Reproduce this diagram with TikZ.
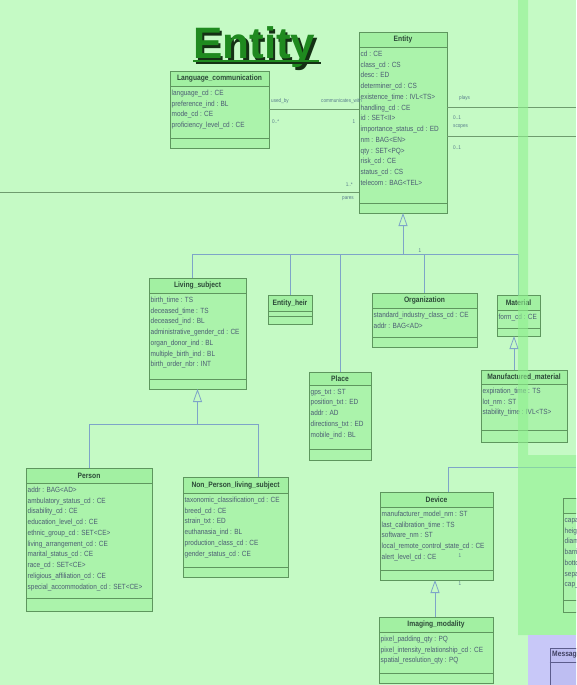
\documentclass[tikz,border=0pt]{standalone}
\usepackage{fontspec}
\setmainfont{Liberation Sans}
\newfontfamily\umlfont[FakeStretch=0.86]{Liberation Sans}
\usetikzlibrary{arrows.meta,fit,calc}

\definecolor{cBg}{HTML}{C5FAC5}
\definecolor{cBody}{HTML}{ABF3AB}
\definecolor{cHead}{HTML}{A2F0A2}
\definecolor{cEdge}{HTML}{5E965E}
\definecolor{cHeadText}{HTML}{2C4A38}
\definecolor{cAttrText}{HTML}{4C5E74}
\definecolor{cLabel}{HTML}{587C8C}
\definecolor{cGen}{HTML}{7EA4C8}
\definecolor{cAssoc}{HTML}{6E9C6E}
\definecolor{cGlow}{HTML}{90F090}
\definecolor{cLav}{HTML}{C8C8F8}
\definecolor{cLavBox}{HTML}{BEBEF2}
\definecolor{cLavEdge}{HTML}{5C5C8C}
\definecolor{cTitle}{HTML}{1F8A1F}
\definecolor{cShadow}{HTML}{143014}

\tikzset{
  classframe/.style={draw=cEdge, line width=0.8pt, inner sep=0pt, outer sep=0pt},
  boxrule/.style={draw=cEdge, line width=0.8pt},
  classtitle/.style={inner sep=0pt, text=cHeadText,
    font=\umlfont\bfseries\fontsize{7.8}{9}\selectfont},
  classattrs/.style={anchor=north west, inner sep=0pt, align=left, text=cAttrText,
    font=\umlfont\fontsize{7.5}{10.75}\selectfont},
  rolelabel/.style={inner sep=0pt, text=cLabel,
    font=\umlfont\fontsize{5.4}{6}\selectfont},
  genline/.style={draw=cGen, line width=0.8pt},
  genarrow/.style={genline, -{Triangle[open, length=13pt, width=9pt]}},
  assocline/.style={draw=cAssoc, line width=0.9pt},
}

% #1 name, #2 left, #3 top, #4 right, #5 header rule, #6 attribute rule,
% #7 bottom, #8 class name, #9 attributes
\newcommand\umlclass[9]{%
  \fill[cBody] (#2,#3) rectangle (#4,#7);
  \fill[cHead] (#2,#3) rectangle (#4,#5);
  \draw[boxrule] (#2,#5) -- (#4,#5) (#2,#6) -- (#4,#6);
  \node[classframe, fit={(#2,#3) (#4,#7)}] (#1) {};
  \node[classtitle] (#1-title) at ($(#2,#3)!0.5!(#4,#5)$) {#8};
  \node[classattrs] (#1-attrs) at ($(#2,#5)+(1.5,3.8)$) {#9};
}

\begin{document}
\begin{tikzpicture}[x=1pt, y=-1pt]
\useasboundingbox (0,0) rectangle (576,685);
\clip (0,0) rectangle (576,685);
\fill[cBg] (0,0) rectangle (576,685);

% heading with drop shadow and underline
\node[anchor=base west, inner sep=0pt, text=cShadow,
  font=\bfseries\fontsize{44}{44}\selectfont] (heading-shadow) at (195.5,61.5) {Entity};
\node[anchor=base west, inner sep=0pt, text=cTitle,
  font=\bfseries\fontsize{44}{44}\selectfont] (heading) at (193,59) {Entity};
\draw[cShadow, line width=2pt] ($(heading.base west)+(2.5,4.5)$) -- ($(heading.base east)+(5.5,4.5)$);
\draw[cTitle, line width=2pt] ($(heading.base west)+(0,2.5)$) -- ($(heading.base east)+(3,2.5)$);

% classes
\umlclass{entity}{359}{32}{447}{47}{203}{213}{Entity}{%
cd : CE\\ class\_cd : CS\\ desc : ED\\ determiner\_cd : CS\\ existence\_time : IVL<TS>\\
handling\_cd : CE\\ id : SET<II>\\ importance\_status\_cd : ED\\ nm : BAG<EN>\\
qty : SET<PQ>\\ risk\_cd : CE\\ status\_cd : CS\\ telecom : BAG<TEL>}

\umlclass{langcomm}{170}{71}{269}{86}{138}{148}{Language\_communication}{%
language\_cd : CE\\ preference\_ind : BL\\ mode\_cd : CE\\ proficiency\_level\_cd : CE}

\umlclass{livsub}{149}{278}{246}{293}{379}{389}{Living\_subject}{%
birth\_time : TS\\ deceased\_time : TS\\ deceased\_ind : BL\\ administrative\_gender\_cd : CE\\
organ\_donor\_ind : BL\\ multiple\_birth\_ind : BL\\ birth\_order\_nbr : INT}

\umlclass{heir}{268}{295}{312}{311}{316}{324}{Entity\_heir}{}

\umlclass{place}{309}{372}{371}{385}{449}{460}{Place}{%
gps\_txt : ST\\ position\_txt : ED\\ addr : AD\\ directions\_txt : ED\\ mobile\_ind : BL}

\umlclass{org}{372}{293}{477}{308}{337}{347}{Organization}{%
standard\_industry\_class\_cd : CE\\ addr : BAG<AD>}

\umlclass{material}{497}{295}{540}{310}{328}{336}{Material}{form\_cd : CE}

\umlclass{manuf}{481}{370}{567}{384}{430}{442}{Manufactured\_material}{%
expiration\_time : TS\\ lot\_nm : ST\\ stability\_time : IVL<TS>}

\umlclass{person}{26}{468}{152}{483}{598}{611}{Person}{%
addr : BAG<AD>\\ ambulatory\_status\_cd : CE\\ disability\_cd : CE\\ education\_level\_cd : CE\\
ethnic\_group\_cd : SET<CE>\\ living\_arrangement\_cd : CE\\ marital\_status\_cd : CE\\
race\_cd : SET<CE>\\ religious\_affiliation\_cd : CE\\ special\_accommodation\_cd : SET<CE>}

\umlclass{nonperson}{183}{477}{288}{493}{567}{577}{Non\_Person\_living\_subject}{%
taxonomic\_classification\_cd : CE\\ breed\_cd : CE\\ strain\_txt : ED\\ euthanasia\_ind : BL\\
production\_class\_cd : CE\\ gender\_status\_cd : CE}

\umlclass{device}{380}{492}{493}{507}{570}{580}{Device}{%
manufacturer\_model\_nm : ST\\ last\_calibration\_time : TS\\ software\_nm : ST\\
local\_remote\_control\_state\_cd : CE\\ alert\_level\_cd : CE}

\umlclass{imaging}{379}{617}{493}{632}{673}{683}{Imaging\_modality}{%
pixel\_padding\_qty : PQ\\ pixel\_intensity\_relationship\_cd : CE\\ spatial\_resolution\_qty : PQ}

% associations of Entity
\coordinate (left-end) at (0,192);
\coordinate (plays-end) at (576,107);
\coordinate (scopes-end) at (576,136);
\draw[assocline] (langcomm.east) -- (entity.west |- langcomm.east);
\draw[assocline] (left-end) -- (entity.west |- left-end);
\draw[assocline] (entity.east |- plays-end) -- (plays-end);
\draw[assocline] (entity.east |- scopes-end) -- (scopes-end);

\node[rolelabel, anchor=west] (l-usedby) at (271,101) {used\_by};
\node[rolelabel, anchor=west] (l-comm) at (321,101) {communicates\_with};
\node[rolelabel, anchor=west] (l-many) at (272,122) {0..*};
\node[rolelabel] (l-one) at (354,122) {1};
\node[rolelabel, anchor=east] (l-left-m) at (353,185) {1..*};
\node[rolelabel, anchor=east] (l-left-r) at (354,199) {pares};
\node[rolelabel, anchor=west] (l-plays) at (459,98) {plays};
\node[rolelabel, anchor=west] (l-plays-m) at (453,118) {0..1};
\node[rolelabel, anchor=west] (l-scopes) at (453,127) {scopes};
\node[rolelabel, anchor=west] (l-scopes-m) at (453,148) {0..1};

% generalisation tree under Entity
\coordinate (j-entity) at (entity.south |- 0,254);
\coordinate (j-liv) at (192,254);
\coordinate (j-heir) at (heir.north |- j-entity);
\coordinate (j-place) at (place.north |- j-entity);
\coordinate (j-org) at (org.north |- j-entity);
\coordinate (j-mat) at (material.north |- j-entity);
\draw[genarrow] (j-entity) -- (entity.south);
\draw[genline] (j-liv) -- (j-mat);
\draw[genline] (j-liv) -- (j-liv |- livsub.north);
\draw[genline] (j-heir) -- (heir.north);
\draw[genline] (j-place) -- (place.north);
\draw[genline] (j-org) -- (org.north);
\draw[genline] (j-mat) -- (material.north);
\node[rolelabel] (l-tree) at (420,251) {1};

% generalisation under Living_subject
\coordinate (j-ls) at (livsub.south |- 0,424);
\coordinate (j-person) at (person.north |- j-ls);
\coordinate (j-np) at (258,424);
\draw[genarrow] (j-ls) -- (livsub.south);
\draw[genline] (j-person) -- (j-np);
\draw[genline] (j-person) -- (person.north);
\draw[genline] (j-np) -- (j-np |- nonperson.north);

% Material -> Manufactured_material
\coordinate (j-mm) at (514,370);
\draw[genarrow] (j-mm) -- (j-mm |- material.south);

% Device and its branch to the right
\coordinate (j-dev) at (448,467);
\coordinate (dev-right) at (576,467);
\draw[genline] (j-dev |- device.north) -- (j-dev) -- (dev-right);

% Imaging_modality -> Device
\coordinate (j-im) at (435,617);
\draw[genarrow] (j-im) -- (j-im |- device.south);
\node[rolelabel] (l-dev-a) at (460,556) {1};
\node[rolelabel] (l-dev-b) at (460,584) {1};

% highlighted band on the right
\fill[cGlow, opacity=0.6] (518,0) rectangle (528,455) (518,455) rectangle (576,635);

\umlclass{container}{563}{498}{650}{513}{600}{612}{Container}{%
capacity\_qty : PQ\\ height\_qty : PQ\\ diameter\_qty : PQ\\ barrier\_delta\_qty : PQ\\
bottom\_delta\_qty : PQ\\ separator\_type\_cd : CE\\ cap\_type\_cd : CE}

% message area
\fill[cLav] (528,635) rectangle (576,685);
\fill[cLavBox] (550,648) rectangle (660,700);
\node[draw=cLavEdge, line width=0.8pt, inner sep=0pt, fit={(550,648) (660,700)}] (message) {};
\draw[cLavEdge, line width=0.8pt] (message.north west |- 0,662) -- (message.north east |- 0,662);
\node[classtitle, anchor=west, text=cLavEdge!70!black] (message-title) at (552,655) {Message};
\end{tikzpicture}
\end{document}
